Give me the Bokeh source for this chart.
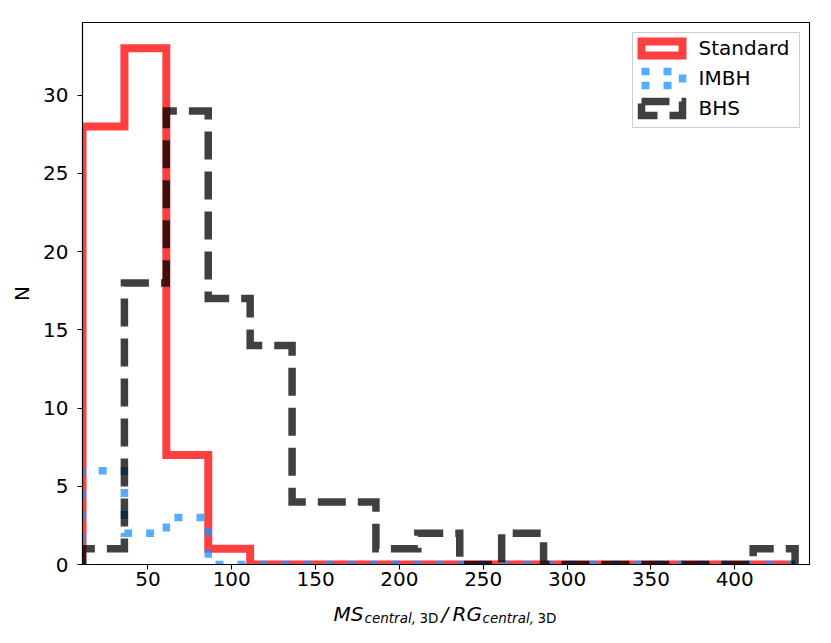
from bokeh.plotting import figure
from bokeh.layouts import column
from bokeh.models import Range1d, FixedTicker, Label, BoxAnnotation
from bokeh.embed import file_html
from bokeh.resources import INLINE

# ---- data ----
bin_edges = [11, 36, 61, 86, 111, 136, 161, 186, 211, 236, 261, 286, 311, 336, 361, 386, 411, 436]
standard_counts = [28, 33, 7, 1, 0, 0, 0, 0, 0, 0, 0, 0, 0, 0, 0, 0, 0]
imbh_counts = [6, 2, 3, 0, 0, 0, 0, 0, 0, 0, 0, 0, 0, 0, 0, 0, 0]
bhs_counts = [1, 18, 29, 17, 14, 4, 4, 1, 2, 0, 2, 0, 0, 0, 0, 0, 1]
series_names = ["Standard", "IMBH", "BHS"]
x_ticks = [50, 100, 150, 200, 250, 300, 350, 400]
y_ticks = [0, 5, 10, 15, 20, 25, 30]

FONT = "DejaVu Sans"
FS = "20px"
SUB = "13.5px"


def step_xy(edges, counts):
    xs = [edges[0]]
    ys = [0]
    for i, c in enumerate(counts):
        xs += [edges[i], edges[i + 1]]
        ys += [c, c]
    xs.append(edges[-1])
    ys.append(0)
    return xs, ys


p = figure(width=831, height=596, output_backend="svg", toolbar_location=None,
           x_range=Range1d(11, 444.6), y_range=Range1d(0, 34.65),
           min_border_left=82, min_border_right=22, min_border_top=22, min_border_bottom=32)
p.grid.visible = False
p.background_fill_color = "white"
p.border_fill_color = "white"
p.outline_line_color = "black"
p.outline_line_width = 1.1

styles = [
    dict(line_color="red", line_alpha=0.75, line_width=8, line_dash="solid"),
    dict(line_color="#1e90ff", line_alpha=0.75, line_width=7.5, line_dash="8 14"),
    dict(line_color="black", line_alpha=0.75, line_width=7.5, line_dash="28 12"),
]
all_counts = [standard_counts, imbh_counts, bhs_counts]

for name, counts, st in zip(series_names, all_counts, styles):
    xs, ys = step_xy(bin_edges, counts)
    p.line(xs, ys, line_join="miter", line_cap="butt", **st)

# ---- legend (drawn in screen units, relative to the frame's bottom-left) ----
p.add_layout(BoxAnnotation(left=550, right=717, top=532, bottom=437,
                           left_units="screen", right_units="screen",
                           top_units="screen", bottom_units="screen",
                           fill_color="white", fill_alpha=0.8,
                           line_color="#cccccc", line_alpha=1.0, line_width=1))
row_pitch = 30
for i, (name, st) in enumerate(zip(series_names, styles)):
    top = 523 - i * row_pitch
    p.add_layout(BoxAnnotation(left=559, right=600, top=top, bottom=top - 14,
                               left_units="screen", right_units="screen",
                               top_units="screen", bottom_units="screen",
                               fill_color=None, fill_alpha=0, line_join="miter", **st))
    p.add_layout(Label(x=616, y=top - 6, x_units="screen", y_units="screen", text=name,
                       text_font=FONT, text_font_size=FS, text_color="black",
                       text_baseline="alphabetic", text_align="left"))

for ax in (p.xaxis, p.yaxis):
    ax.major_label_text_font = FONT
    ax.major_label_text_font_size = FS
    ax.major_label_text_color = "black"
    ax.axis_line_color = "black"
    ax.axis_line_width = 1.1
    ax.major_tick_line_width = 1.1
    ax.major_tick_line_color = "black"
    ax.major_tick_out = 5
    ax.major_tick_in = 0
    ax.minor_tick_line_color = None

p.xaxis.ticker = FixedTicker(ticks=x_ticks)
p.yaxis.ticker = FixedTicker(ticks=y_ticks)
p.xaxis.major_label_standoff = 2
p.yaxis.major_label_standoff = 9

p.yaxis.axis_label = "N"
p.yaxis.axis_label_text_font = FONT
p.yaxis.axis_label_text_font_size = FS
p.yaxis.axis_label_text_font_style = "normal"
p.yaxis.axis_label_text_color = "black"
p.yaxis.axis_label_standoff = 6

# ---- x-axis label strip (math-style label made of text pieces) ----
p2 = figure(width=831, height=47, output_backend="svg", toolbar_location=None,
            x_axis_type=None, y_axis_type=None, min_border=0,
            x_range=Range1d(0, 831), y_range=Range1d(0, 47))
p2.grid.visible = False
p2.outline_line_color = None
p2.background_fill_color = "white"
p2.border_fill_color = "white"

parts = [
    ("MS", 251, 30, FS, "italic"),
    ("central,", 282, 26, SUB, "italic"),
    ("3D", 337, 26, SUB, "normal"),
    ("/", 359, 30, FS, "italic"),
    ("RG", 370, 30, FS, "italic"),
    ("central,", 400, 26, SUB, "italic"),
    ("3D", 455, 26, SUB, "normal"),
]
for txt, x, y, fs, style in parts:
    p2.add_layout(Label(x=x, y=y, x_units="screen", y_units="screen", text=txt,
                        text_font=FONT, text_font_size=fs, text_font_style=style,
                        text_baseline="alphabetic", text_align="left",
                        text_color="black"))

layout = column(p, p2, spacing=0)
open("out.html", "w").write(file_html(layout, INLINE))
